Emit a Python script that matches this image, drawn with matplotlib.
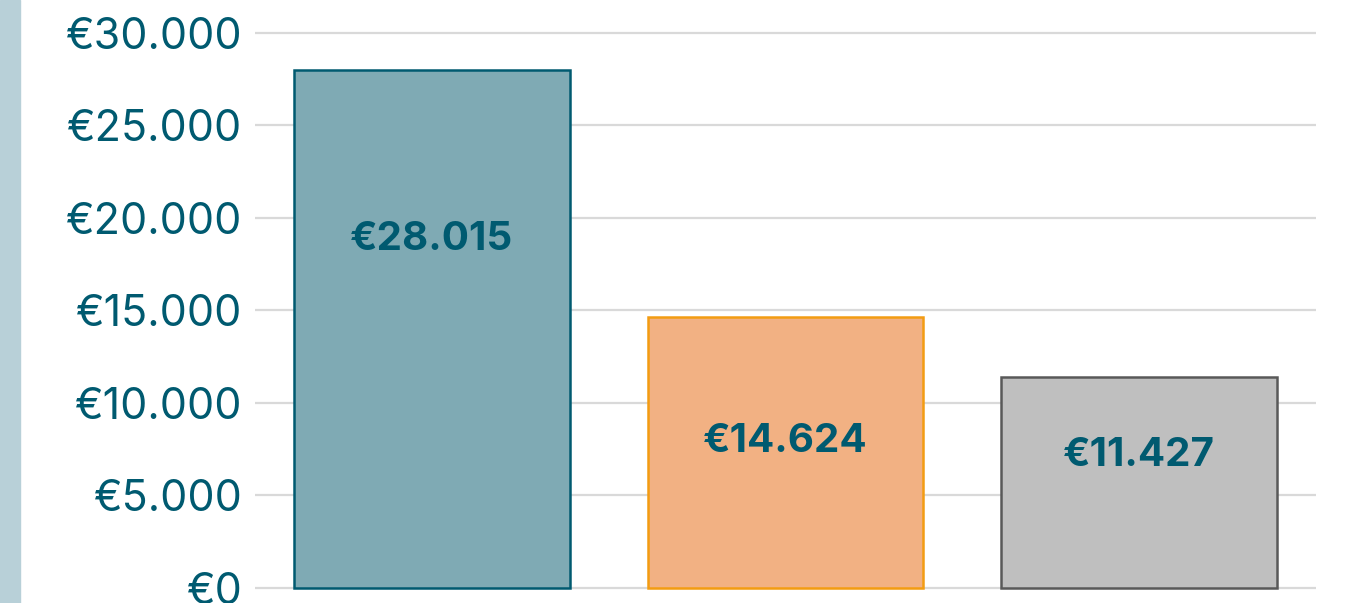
import matplotlib.pyplot as plt
from matplotlib.patches import Rectangle
from matplotlib.ticker import FuncFormatter

# values
categories = ['A', 'B', 'C']
values = [28015, 14624, 11427]
value_labels = ['€28.015', '€14.624', '€11.427']
label_heights = [18850, 7900, 7150]
yticks = [0, 5000, 10000, 15000, 20000, 25000, 30000]

fill_colors = ['#7faab4', '#f2b183', '#bfbfbf']
edge_colors = ['#005a70', '#f39c12', '#595959']
text_color = '#005a70'

plt.rcParams['font.family'] = ['Inter', 'DejaVu Sans']

fig = plt.figure(figsize=(13.52, 6.03), dpi=100)
fig.patches.append(Rectangle((0, 0), 20 / 1352, 1, transform=fig.transFigure,
                             color='#b8d0d8', zorder=0))

ax = fig.add_axes([255 / 1352, 0, (1316 - 255) / 1352, 1])

x = range(len(categories))
ax.bar(x, values, width=0.78, color=fill_colors, edgecolor=edge_colors,
       linewidth=1.8, zorder=3)

for i, (lab, h) in enumerate(zip(value_labels, label_heights)):
    ax.text(i, h, lab, ha='center', va='center', fontsize=29,
            fontweight='bold', color=text_color, zorder=4)

ax.set_xlim(-0.5, 2.5)
ax.set_ylim(-810, 31780)
ax.set_yticks(yticks)
ax.yaxis.set_major_formatter(FuncFormatter(
    lambda v, p: '€' + f'{int(v):,}'.replace(',', '.')))
ax.tick_params(axis='y', length=0, pad=9, labelsize=31, labelcolor=text_color)
ax.set_xticks([])
ax.grid(axis='y', color='#d9d9d9', linewidth=1.6, zorder=0)
for s in ax.spines.values():
    s.set_visible(False)

fig.savefig('out.png', dpi=100)
